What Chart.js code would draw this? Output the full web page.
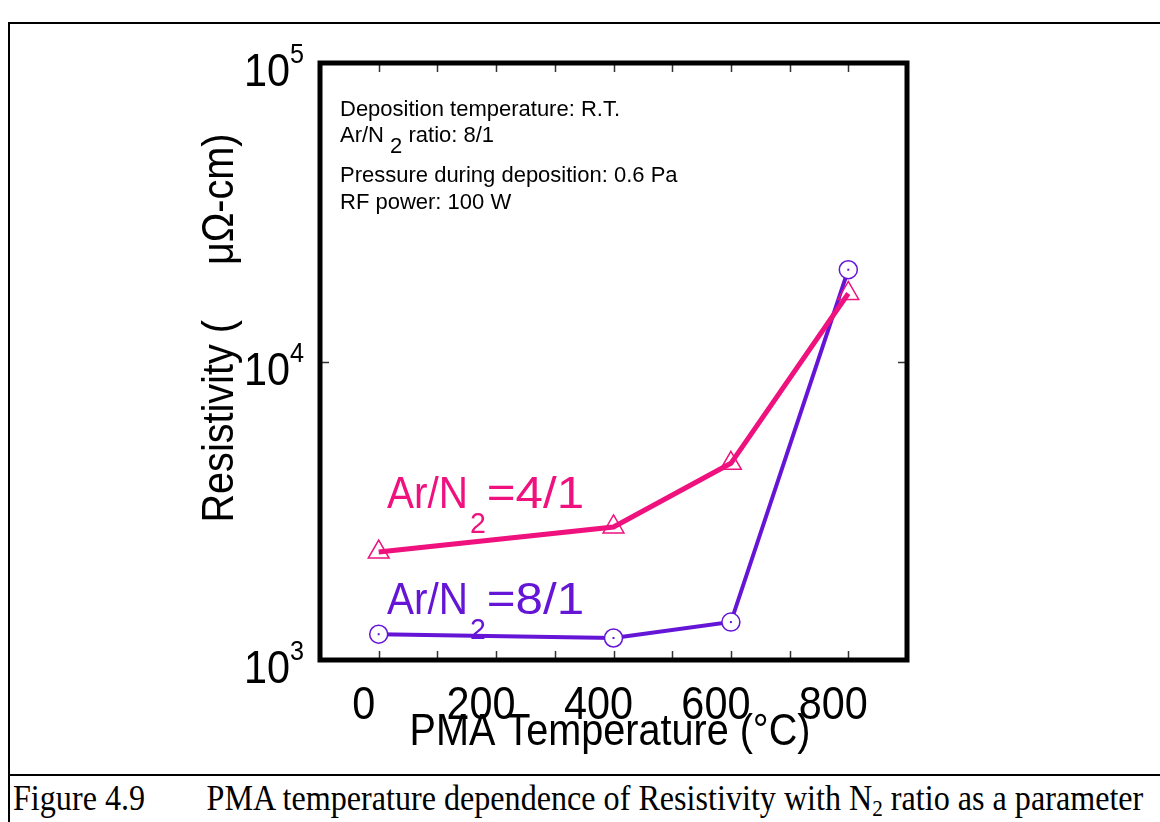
<!DOCTYPE html>
<html>
<head>
<meta charset="utf-8">
<script src="https://cdn.jsdelivr.net/npm/chart.js@4.4.1/dist/chart.umd.min.js"></script>
<style>
  html, body { margin: 0; padding: 0; background: #fff; }
  #page { position: relative; width: 1160px; height: 822px; overflow: hidden; }
  #frame { position: absolute; left: 8px; top: 22px; width: 1160px; height: 820px;
           border-left: 2px solid #000; border-top: 2px solid #000; }
  #rule { position: absolute; left: 8px; top: 774px; width: 1160px; border-top: 2px solid #000; }
  #caption { position: absolute; left: 13px; top: 781px; font-family: "Liberation Serif", "Times New Roman", serif;
             font-size: 35px; line-height: 35px; color: #000; white-space: pre;
             transform: scaleX(0.918); transform-origin: 0 0; }
  #caption .gap { display: inline-block; width: 67px; }
  #caption sub { font-size: 23px; vertical-align: -6px; line-height: 0; }
  canvas { position: absolute; left: 0; top: 0; }
</style>
</head>
<body>
<div id="page">
  <div id="frame"></div>
  <div id="rule"></div>
  <div id="caption">Figure 4.9<span class="gap"></span>PMA temperature dependence of Resistivity with N<sub>2</sub> ratio as a parameter</div>
  <canvas id="chart" width="1160" height="822"></canvas>
</div>
<script>
// PMA temperature (deg C)
var temps = [0, 400, 600, 800];
// resistivity, micro-ohm cm
var ratio41 = [2300, 2790, 4560, 16900];
var ratio81 = [1220, 1185, 1340, 20300];

var xTicks = [0, 100, 200, 300, 400, 500, 600, 700, 800];
var xLabels = [0, 200, 400, 600, 800];
var yTicks = [1000, 10000, 100000];
var yExponents = ['3', '4', '5'];

var PINK = '#ef117e';
var PURPLE = '#6515d6';
var FONT = '"Liberation Sans", Arial, sans-serif';

function toPoints(xs, ys) {
  return xs.map(function(x, i) { return { x: x, y: ys[i] }; });
}

// draws text squeezed horizontally, returns drawn width
function txt(ctx, s, x, y, size, color, align, sx) {
  ctx.save();
  ctx.font = size + 'px ' + FONT;
  ctx.fillStyle = color;
  ctx.textAlign = align || 'left';
  ctx.textBaseline = 'alphabetic';
  var w = ctx.measureText(s).width * sx;
  ctx.translate(x, y);
  ctx.scale(sx, 1);
  ctx.fillText(s, 0, 0);
  ctx.restore();
  return w;
}

var decor = {
  id: 'decor',
  afterDatasetsDraw: function(chart) {
    var ctx = chart.ctx;
    var a = chart.chartArea;
    var xs = chart.scales.x, ys = chart.scales.y;

    // centre dots inside the circle markers
    chart.getDatasetMeta(1).data.forEach(function(p) {
      ctx.fillStyle = PURPLE;
      ctx.fillRect(p.x - 1, p.y - 1, 2, 2);
    });

    // inward tick marks
    ctx.save();
    ctx.strokeStyle = '#333';
    ctx.lineWidth = 1.5;
    ctx.beginPath();
    xTicks.forEach(function(v) {
      var px = Math.round(xs.getPixelForValue(v)) + 0.5;
      ctx.moveTo(px, a.bottom); ctx.lineTo(px, a.bottom - 9);
      ctx.moveTo(px, a.top); ctx.lineTo(px, a.top + 9);
    });
    yTicks.forEach(function(v) {
      var py = Math.round(ys.getPixelForValue(v)) + 0.5;
      ctx.moveTo(a.left, py); ctx.lineTo(a.left + 9, py);
      ctx.moveTo(a.right, py); ctx.lineTo(a.right - 9, py);
    });
    ctx.stroke();

    // plot frame
    ctx.strokeStyle = '#000';
    ctx.lineWidth = 5;
    ctx.strokeRect(a.left, a.top, a.right - a.left, a.bottom - a.top);
    ctx.restore();

    // y tick labels as powers of ten
    yTicks.forEach(function(v, i) {
      var py = ys.getPixelForValue(v);
      var w = txt(ctx, yExponents[i], 304, py, 28, '#000', 'right', 0.9);
      txt(ctx, '10', 304 - w, py + 23, 46, '#000', 'right', 0.9);
    });

    // x tick labels
    xLabels.forEach(function(v) {
      txt(ctx, String(v), xs.getPixelForValue(v) - 15, a.bottom + 59, 46, '#000', 'center', 0.9);
    });

    // axis titles
    txt(ctx, 'PMA Temperature (\u00B0C)', 610, 745, 44, '#000', 'center', 0.9);
    ctx.save();
    ctx.translate(233, 328);
    ctx.rotate(-Math.PI / 2);
    txt(ctx, 'Resistivity (     \u03BC\u03A9-cm)', 0, 0, 44, '#000', 'center', 0.9);
    ctx.restore();

    // deposition conditions
    var x0 = 340;
    txt(ctx, 'Deposition temperature: R.T.', x0, 116, 22, '#000', 'left', 1);
    var w1 = txt(ctx, 'Ar/N ', x0, 142, 22, '#000', 'left', 1);
    var w2 = txt(ctx, '2', x0 + w1, 153, 22, '#000', 'left', 1);
    txt(ctx, ' ratio: 8/1', x0 + w1 + w2, 142, 22, '#000', 'left', 1);
    txt(ctx, 'Pressure during deposition: 0.6 Pa', x0, 182, 22, '#000', 'left', 1);
    txt(ctx, 'RF power: 100 W', x0, 209, 22, '#000', 'left', 1);

    // series labels
    [[PINK, 508, '=4/1'], [PURPLE, 614, '=8/1']].forEach(function(s) {
      var wa = txt(ctx, 'Ar/N', 387, s[1], 44, s[0], 'left', 0.92);
      var ws = txt(ctx, '2', 387 + wa + 2, s[1] + 25, 30, s[0], 'left', 0.95);
      txt(ctx, s[2], 387 + wa + ws + 3, s[1], 44, s[0], 'left', 1.12);
    });
  }
};

var ctx = document.getElementById('chart').getContext('2d');
var chart = new Chart(ctx, {
  type: 'line',
  data: {
    datasets: [{
      label: 'Ar/N2=4/1',
      data: toPoints(temps, ratio41),
      borderColor: PINK,
      borderWidth: 5,
      pointStyle: 'triangle',
      pointRadius: 12,
      pointBorderWidth: 1.5,
      pointBorderColor: PINK,
      pointBackgroundColor: 'rgba(0,0,0,0)',
      tension: 0
    }, {
      label: 'Ar/N2=8/1',
      data: toPoints(temps, ratio81),
      borderColor: PURPLE,
      borderWidth: 4,
      pointStyle: 'circle',
      pointRadius: 9,
      pointBorderWidth: 1.5,
      pointBorderColor: PURPLE,
      pointBackgroundColor: '#fff',
      tension: 0
    }]
  },
  options: {
    responsive: false,
    animation: false,
    clip: false,
    layout: { padding: { left: 320, right: 253, top: 63, bottom: 162 } },
    plugins: { legend: { display: false }, tooltip: { enabled: false } },
    scales: {
      x: { type: 'linear', min: -100, max: 900, display: false },
      y: { type: 'logarithmic', min: 1000, max: 100000, display: false }
    }
  },
  plugins: [decor]
});
</script>
</body>
</html>
